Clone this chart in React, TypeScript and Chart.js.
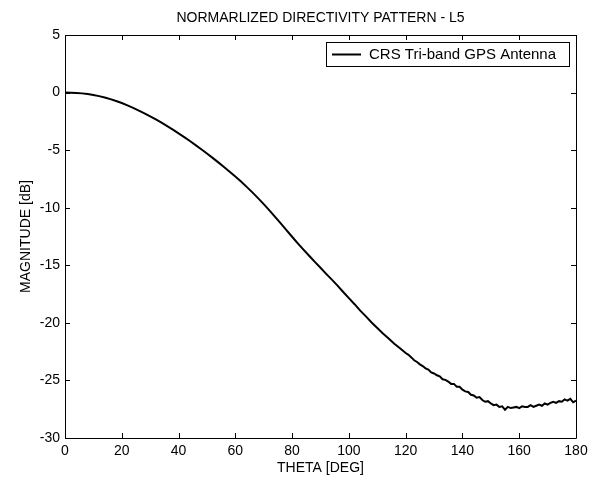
import React, { useEffect, useRef } from "react";
import { Chart, registerables } from "chart.js";

Chart.register(...registerables);

const chartTitle = "NORMARLIZED DIRECTIVITY PATTERN - L5";
const xAxisTitle = "THETA [DEG]";
const yAxisTitle = "MAGNITUDE [dB]";
const seriesLabel = "CRS Tri-band GPS Antenna";

const xTicks = [0, 20, 40, 60, 80, 100, 120, 140, 160, 180];
const yTicks = [5, 0, -5, -10, -15, -20, -25, -30];

const thetaDeg = [
  0, 2, 4, 6, 8, 10, 12, 14, 16, 18, 20, 22, 24, 26, 28, 30, 32, 34, 36, 38,
  40, 42, 44, 46, 48, 50, 52, 54, 56, 58, 60, 62, 64, 66, 68, 70, 72, 74, 76, 78,
  80, 82, 84, 86, 88, 90, 92, 94, 96, 98, 100, 102, 104, 106, 108, 110, 112, 114, 116, 118,
  120, 121, 122, 123, 124, 125, 126, 127, 128, 129, 130, 131, 132, 133, 134, 135, 136, 137, 138, 139,
  140, 141, 142, 143, 144, 145, 146, 147, 148, 149, 150, 151, 152, 153, 154, 155, 156, 157, 158, 159,
  160, 161, 162, 163, 164, 165, 166, 167, 168, 169, 170, 171, 172, 173, 174, 175, 176, 177, 178, 179, 180,
];

const magnitudeDb = [
  0.0, -0.01, -0.03, -0.07, -0.13, -0.21, -0.31, -0.43, -0.57, -0.73, -0.91, -1.11, -1.33, -1.56, -1.8, -2.06, -2.33, -2.61, -2.91, -3.22,
  -3.54, -3.87, -4.21, -4.56, -4.92, -5.29, -5.67, -6.06, -6.46, -6.87, -7.29, -7.73, -8.19, -8.67, -9.17, -9.69, -10.23, -10.79, -11.36, -11.94,
  -12.52, -13.09, -13.64, -14.17, -14.7, -15.21, -15.74, -16.25, -16.77, -17.32, -17.85, -18.38, -18.94, -19.44, -19.97, -20.44, -20.93, -21.36, -21.81, -22.2,
  -22.62, -22.78, -23.0, -23.25, -23.4, -23.6, -23.75, -23.95, -24.05, -24.3, -24.4, -24.55, -24.65, -24.9, -24.95, -25.1, -25.3, -25.3, -25.55, -25.55,
  -25.8, -25.95, -26.0, -26.25, -26.3, -26.5, -26.45, -26.7, -26.85, -26.8, -27.0, -27.15, -27.1, -27.3, -27.25, -27.55, -27.3, -27.4, -27.35, -27.3,
  -27.4, -27.25, -27.3, -27.3, -27.15, -27.3, -27.2, -27.1, -27.2, -27.0, -27.1, -26.95, -26.85, -26.95, -26.8, -26.85, -26.65, -26.75, -26.6, -26.9, -26.75,
];

const FONT = "'Liberation Sans', Arial, sans-serif";

const matlabFrame = {
  id: "matlabFrame",
  afterDatasetsDraw(chart: any) {
    const { ctx, chartArea, scales } = chart;
    const { left, right, top, bottom } = chartArea;
    const tl = 5;
    ctx.save();
    ctx.strokeStyle = "#000";
    ctx.lineWidth = 1;
    ctx.beginPath();
    ctx.rect(Math.round(left) + 0.5, Math.round(top) + 0.5, Math.round(right - left), Math.round(bottom - top));
    ctx.stroke();
    ctx.beginPath();
    for (const v of xTicks) {
      const x = Math.round(scales.x.getPixelForValue(v)) + 0.5;
      ctx.moveTo(x, bottom);
      ctx.lineTo(x, bottom - tl);
      ctx.moveTo(x, top);
      ctx.lineTo(x, top + tl);
    }
    for (const v of yTicks) {
      const y = Math.round(scales.y.getPixelForValue(v)) + 0.5;
      ctx.moveTo(left, y);
      ctx.lineTo(left + tl, y);
      ctx.moveTo(right, y);
      ctx.lineTo(right - tl, y);
    }
    ctx.stroke();

    // title centred over the axes
    ctx.fillStyle = "#000";
    ctx.font = `14px ${FONT}`;
    ctx.textAlign = "center";
    ctx.textBaseline = "middle";
    ctx.fillText(chartTitle, (left + right) / 2, 18);

    // legend inside plot, top-right
    ctx.font = `15px ${FONT}`;
    const tw = ctx.measureText(seriesLabel).width;
    const lineLen = 29;
    const boxW = Math.round(6 + lineLen + 8 + tw + 13);
    const boxH = 24;
    const bx = Math.round(right - 7 - boxW);
    const by = Math.round(top + 7);
    ctx.fillStyle = "#fff";
    ctx.fillRect(bx, by, boxW, boxH);
    ctx.strokeRect(bx + 0.5, by + 0.5, boxW, boxH);
    const ly = by + boxH / 2 + 0.5;
    ctx.lineWidth = 2;
    ctx.beginPath();
    ctx.moveTo(bx + 6, ly);
    ctx.lineTo(bx + 6 + lineLen, ly);
    ctx.stroke();
    ctx.fillStyle = "#000";
    ctx.textBaseline = "middle";
    ctx.textAlign = "left";
    ctx.fillText(seriesLabel, bx + 6 + lineLen + 8, ly + 0.5);
    ctx.restore();
  },
};

export default function App() {
  const ref = useRef<HTMLCanvasElement | null>(null);
  useEffect(() => {
    document.body.style.margin = "0";
    const canvas = ref.current;
    if (!canvas) return;
    const points = thetaDeg.map((t, i) => ({ x: t, y: magnitudeDb[i] }));
    const chart = new Chart(canvas, {
      type: "line",
      data: {
        datasets: [
          {
            label: seriesLabel,
            data: points,
            borderColor: "#000",
            borderWidth: 2,
            pointRadius: 0,
            tension: 0,
            fill: false,
          },
        ],
      },
      options: {
        animation: false,
        responsive: false,
        maintainAspectRatio: false,
        layout: { padding: { left: 0, right: 23, top: 35, bottom: 0 } },
        plugins: {
          legend: { display: false },
          tooltip: { enabled: false },
          title: { display: false },
        },
        scales: {
          x: {
            type: "linear",
            min: 0,
            max: 180,
            afterBuildTicks: (s: any) => {
              s.ticks = xTicks.map((v) => ({ value: v }));
            },
            afterFit: (s: any) => {
              s.height = 42;
            },
            grid: { display: false, drawTicks: false },
            border: { display: false },
            ticks: { color: "#000", font: { family: FONT, size: 14 }, padding: 5, maxRotation: 0, autoSkip: false },
            title: {
              display: true,
              text: xAxisTitle,
              color: "#000",
              font: { family: FONT, size: 14 },
              padding: { top: 0, bottom: 3 },
            },
          },
          y: {
            type: "linear",
            min: -30,
            max: 5,
            afterBuildTicks: (s: any) => {
              s.ticks = yTicks.map((v) => ({ value: v }));
            },
            afterFit: (s: any) => {
              s.width = 65;
            },
            grid: { display: false, drawTicks: false },
            border: { display: false },
            ticks: { color: "#000", font: { family: FONT, size: 14 }, padding: 5, autoSkip: false },
            title: {
              display: true,
              text: yAxisTitle,
              color: "#000",
              font: { family: FONT, size: 14 },
              padding: { top: 18, bottom: 0 },
            },
          },
        },
      },
      plugins: [matlabFrame],
    });
    return () => chart.destroy();
  }, []);
  return (
    <div style={{ width: 599, height: 480, background: "#fff" }}>
      <canvas ref={ref} width={599} height={480} style={{ display: "block" }} />
    </div>
  );
}
